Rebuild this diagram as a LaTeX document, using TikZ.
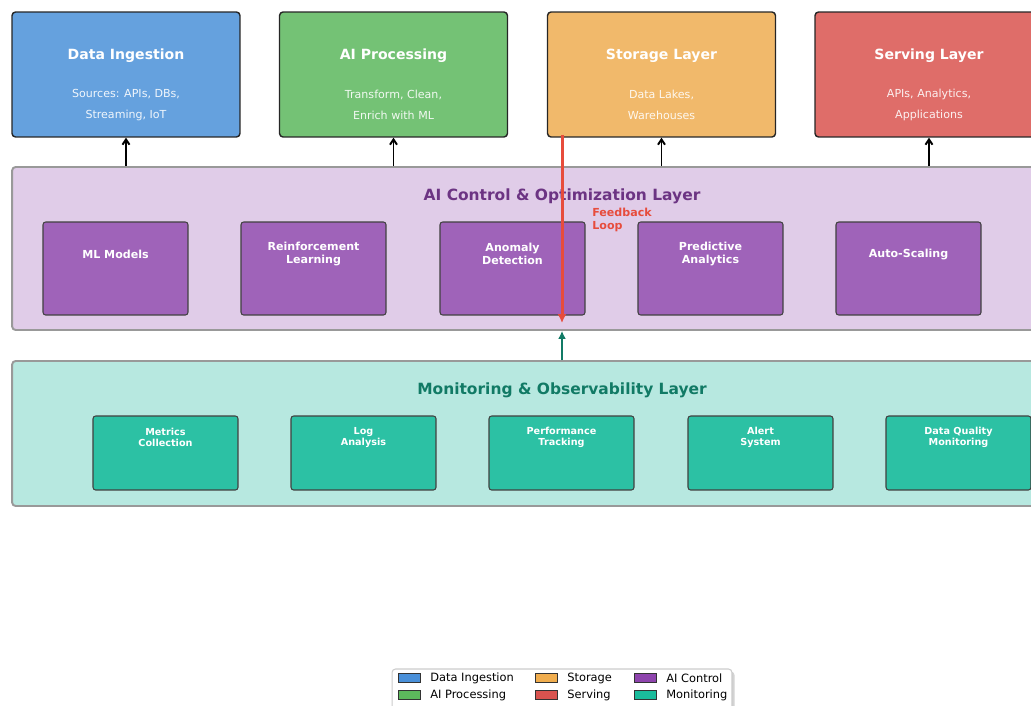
\documentclass[tikz,border=0pt]{standalone}
\usepackage{fontspec}
\setmainfont{DejaVu Sans}
\usetikzlibrary{arrows.meta,positioning,shadows}

\definecolor{ingestblue}{RGB}{101,161,222}
\definecolor{procgreen}{RGB}{116,194,117}
\definecolor{storeorange}{RGB}{241,185,107}
\definecolor{servered}{RGB}{223,109,105}
\definecolor{ctrlpurple}{RGB}{159,99,185}
\definecolor{ctrlbg}{RGB}{224,204,232}
\definecolor{ctrltext}{RGB}{108,52,131}
\definecolor{monteal}{RGB}{44,193,164}
\definecolor{monbg}{RGB}{183,232,224}
\definecolor{montext}{RGB}{17,122,101}
\definecolor{fbred}{RGB}{231,76,60}
\definecolor{legblue}{RGB}{74,144,217}
\definecolor{leggreen}{RGB}{92,184,92}
\definecolor{legorange}{RGB}{240,173,78}
\definecolor{legred}{RGB}{217,83,79}
\definecolor{legpurple}{RGB}{142,68,173}
\definecolor{legteal}{RGB}{26,188,156}

\begin{document}
\begin{tikzpicture}[
    x=0.02cm, y=-0.02cm,
    topbox/.style={rectangle, rounded corners=2pt, draw=black!85, line width=0.8pt, minimum width=4.56cm, minimum height=2.5cm},
    toptitle/.style={text=white, font=\fontsize{8}{9.6}\selectfont\bfseries, inner sep=0pt},
    topsub/.style={text=white, text opacity=0.9, font=\fontsize{6.3}{11.6}\selectfont, align=center, inner sep=0pt},
    layer/.style={rectangle, rounded corners=2pt, draw=black!40, line width=1.1pt, minimum width=22cm},
    layertitle/.style={font=\fontsize{8.8}{10}\selectfont\bfseries, inner sep=0pt},
    ctrlbox/.style={rectangle, rounded corners=1.5pt, draw=black!75, line width=0.6pt, fill=ctrlpurple, minimum width=2.9cm, minimum height=1.86cm},
    ctrltxt/.style={text=white, font=\fontsize{6.3}{7.4}\selectfont\bfseries, align=center, inner sep=0pt},
    monbox/.style={rectangle, rounded corners=1.5pt, draw=black!75, line width=0.6pt, fill=monteal, minimum width=2.9cm, minimum height=1.48cm},
    montxt/.style={text=white, font=\fontsize{5.5}{6.3}\selectfont\bfseries, align=center, inner sep=0pt},
    uparrow/.style={-{Straight Barb[length=3pt,width=4pt]}, line width=1.1pt, black},
    legpatch/.style={rectangle, draw=black!80, line width=0.5pt, minimum width=0.44cm, minimum height=0.18cm, inner sep=0pt},
    legtxt/.style={font=\fontsize{6.5}{7.8}\selectfont, inner sep=0pt, anchor=west},
]
    \useasboundingbox (0,0) rectangle (1031,706);
    \clip (0,0) rectangle (1031,706);

    % Top Layers
    \node[topbox, fill=ingestblue] (ingest) at (126,74.5) {};
    \node[topbox, fill=procgreen] (proc) at (393.5,74.5) {};
    \node[topbox, fill=storeorange] (store) at (661.5,74.5) {};
    \node[topbox, fill=servered] (serve) at (929,74.5) {};

    \node[toptitle] (ingestT) at (126,56) {Data Ingestion};
    \node[topsub] (ingestS) at (126,105) {Sources: APIs, DBs,\\Streaming, IoT};
    \node[toptitle] (procT) at (393.5,56) {AI Processing};
    \node[topsub] (procS) at (393.5,105) {Transform, Clean,\\Enrich with ML};
    \node[toptitle] (storeT) at (661.5,56) {Storage Layer};
    \node[topsub] (storeS) at (661.5,105) {Data Lakes,\\Warehouses};
    \node[toptitle] (serveT) at (929,56) {Serving Layer};
    \node[topsub] (serveS) at (929,105) {APIs, Analytics,\\Applications};

    % AI Control Layer
    \node[layer, fill=ctrlbg, minimum height=3.26cm] (ctrl) at (562,248.5) {};
    \node[layertitle, text=ctrltext] (ctrlT) at (562,196.5) {AI Control \& Optimization Layer};

    \node[ctrlbox] (ml) at (115.5,268.5) {};
    \node[ctrlbox] (rl) at (313.5,268.5) {};
    \node[ctrlbox] (anom) at (512.5,268.5) {};
    \node[ctrlbox] (pred) at (710.5,268.5) {};
    \node[ctrlbox] (scale) at (908.5,268.5) {};

    \node[ctrltxt] (mlT) at (115.5,254) {ML Models};
    \node[ctrltxt] (rlT) at (313.5,253.5) {Reinforcement\\Learning};
    \node[ctrltxt] (anomT) at (512.5,253.5) {Anomaly\\Detection};
    \node[ctrltxt] (predT) at (710.5,253.5) {Predictive\\Analytics};
    \node[ctrltxt] (scaleT) at (908.5,254) {Auto-Scaling};

    % Monitoring Layer
    \node[layer, fill=monbg, minimum height=2.9cm] (mon) at (562,433.5) {};
    \node[layertitle, text=montext] (monT) at (562,390.5) {Monitoring \& Observability Layer};

    \node[monbox] (metric) at (165.5,453) {};
    \node[monbox] (logs) at (363.5,453) {};
    \node[monbox] (perf) at (561.5,453) {};
    \node[monbox] (alert) at (760.5,453) {};
    \node[monbox] (dq) at (958.5,453) {};

    \node[montxt] (metricT) at (165.5,437.5) {Metrics\\Collection};
    \node[montxt] (logsT) at (363.5,437.5) {Log\\Analysis};
    \node[montxt] (perfT) at (561.5,437.5) {Performance\\Tracking};
    \node[montxt] (alertT) at (760.5,437.5) {Alert\\System};
    \node[montxt] (dqT) at (958.5,437.5) {Data Quality\\Monitoring};

    % Connections
    \draw[uparrow] (ctrl.north -| ingest) -- (ingest.south);
    \draw[uparrow] (ctrl.north -| proc) -- (proc.south);
    \draw[uparrow] (ctrl.north -| store) -- (store.south);
    \draw[uparrow] (ctrl.north -| serve) -- (serve.south);

    % Feedback Loop
    \coordinate (fbtop) at (562,135);
    \coordinate (fbend) at (562,323);
    \draw[-{Latex[length=5pt,width=5pt]}, line width=1.7pt, fbred] (fbtop) -- (fbend);
    \node[anchor=west, text=fbred, font=\fontsize{6.3}{7.4}\selectfont\bfseries, align=left, inner sep=0pt] (fbT) at (592,220) {Feedback\\Loop};
    \draw[-{Latex[length=4.5pt,width=4.5pt]}, line width=1.1pt, montext] (mon.north -| fbend) -- (ctrl.south -| fbend);

    % Legend
    \node[rectangle, rounded corners=2pt, draw=black!20, fill=white, line width=0.6pt, minimum width=6.8cm, minimum height=0.84cm, drop shadow={shadow xshift=1.5pt, shadow yshift=-1.5pt, opacity=0.35}] (legend) at (562,690) {};
    \node[legpatch, fill=legblue] (legA) at (409,678) {};
    \node[legpatch, fill=leggreen] (legB) at (409,695) {};
    \node[legpatch, fill=legorange] (legC) at (546,678) {};
    \node[legpatch, fill=legred] (legD) at (546,695) {};
    \node[legpatch, fill=legpurple] (legE) at (645,678) {};
    \node[legpatch, fill=legteal] (legF) at (645,695) {};
    \node[legtxt, right=0.19cm of legA] (legAT) {Data Ingestion};
    \node[legtxt, right=0.19cm of legB] (legBT) {AI Processing};
    \node[legtxt, right=0.19cm of legC] (legCT) {Storage};
    \node[legtxt, right=0.19cm of legD] (legDT) {Serving};
    \node[legtxt, right=0.19cm of legE] (legET) {AI Control};
    \node[legtxt, right=0.19cm of legF] (legFT) {Monitoring};
\end{tikzpicture}
\end{document}
